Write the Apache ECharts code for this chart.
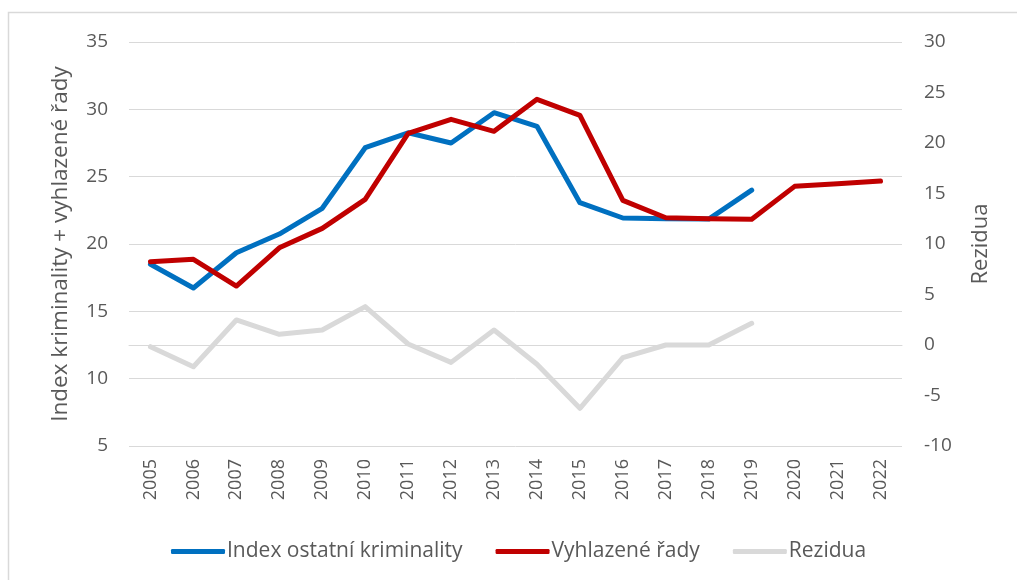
<!DOCTYPE html>
<html>
<head>
<meta charset="utf-8">
<script src="https://cdn.jsdelivr.net/npm/echarts@6/dist/echarts.min.js"></script>
<style>
  html, body { margin: 0; padding: 0; background: #ffffff; }
  #chart { width: 1017px; height: 580px; }
</style>
</head>
<body>
<div id="chart"></div>
<script>
// Years on the category axis
const years = ['2005','2006','2007','2008','2009','2010','2011','2012','2013','2014',
               '2015','2016','2017','2018','2019','2020','2021','2022'];

// Index ostatní kriminality (left axis)
const indexValues = [18.5, 16.73, 19.35, 20.74, 22.65, 27.15, 28.26, 27.5, 29.75, 28.74,
                     23.07, 21.93, 21.88, 21.85, 24.0, null, null, null];

// Vyhlazené řady (left axis)
const smoothedValues = [18.68, 18.86, 16.88, 19.72, 21.16, 23.31, 28.22, 29.26, 28.37, 30.74,
                        29.55, 23.24, 21.95, 21.88, 21.83, 24.28, 24.48, 24.67];

// Rezidua (right axis)
const residualValues = [-0.17, -2.15, 2.48, 1.06, 1.49, 3.8, 0.1, -1.72, 1.49, -1.91,
                        -6.27, -1.25, 0.0, 0.0, 2.15, null, null, null];

const leftTicks = { min: 5, max: 35, interval: 5 };
const rightTicks = { min: -10, max: 30, interval: 5 };

const FONT = 'Open Sans';
const TEXT = '#595959';

const chart = echarts.init(document.getElementById('chart'), null, { renderer: 'canvas' });

chart.setOption({
  animation: false,
  backgroundColor: '#ffffff',
  textStyle: { fontFamily: FONT },
  // chart-area frame: top and left edges
  graphic: [{
    type: 'polyline',
    shape: { points: [[8.5, 580], [8.5, 12.5], [1017, 12.5]] },
    style: { fill: 'none', stroke: '#d9d9d9', lineWidth: 1.5 },
    silent: true
  }],
  grid: { left: 129, right: 115, top: 42, bottom: 134 },
  legend: {
    left: 166,
    top: 536,
    itemGap: 33,
    itemWidth: 54,
    itemHeight: 5,
    icon: 'roundRect',
    textStyle: { fontFamily: FONT, fontSize: 21, color: TEXT, padding: [0, 0, 0, -3] },
    data: ['Index ostatní kriminality', 'Vyhlazené řady', 'Rezidua']
  },
  xAxis: {
    type: 'category',
    data: years,
    boundaryGap: true,
    axisLine: { show: true, lineStyle: { color: '#d9d9d9', width: 1 } },
    axisTick: { show: false },
    axisLabel: { rotate: 90, fontSize: 18, color: TEXT, margin: 13, fontFamily: FONT }
  },
  yAxis: [{
    type: 'value',
    position: 'left',
    min: leftTicks.min, max: leftTicks.max, interval: leftTicks.interval,
    name: 'Index kriminality + vyhlazené řady',
    nameLocation: 'middle',
    nameRotate: 90,
    nameGap: 57,
    nameTextStyle: { fontSize: 22.5, color: TEXT, fontFamily: FONT },
    axisLine: { show: false },
    axisTick: { show: false },
    axisLabel: { fontSize: 19, color: TEXT, margin: 21, fontFamily: FONT },
    splitLine: { show: true, lineStyle: { color: '#d9d9d9', width: 1 } }
  }, {
    type: 'value',
    position: 'right',
    min: rightTicks.min, max: rightTicks.max, interval: rightTicks.interval,
    name: 'Rezidua',
    nameLocation: 'middle',
    nameRotate: 90,
    nameGap: 68,
    nameTextStyle: { fontSize: 22, color: TEXT, fontFamily: FONT },
    axisLine: { show: false },
    axisTick: { show: false },
    axisLabel: { fontSize: 19, color: TEXT, margin: 22, fontFamily: FONT },
    splitLine: { show: false }
  }],
  series: [{
    name: 'Rezidua',
    type: 'line',
    yAxisIndex: 1,
    data: residualValues,
    symbol: 'none',
    lineStyle: { color: '#d9d9d9', width: 5, cap: 'round', join: 'round' },
    itemStyle: { color: '#d9d9d9' }
  }, {
    name: 'Index ostatní kriminality',
    type: 'line',
    yAxisIndex: 0,
    data: indexValues,
    symbol: 'none',
    lineStyle: { color: '#0070c0', width: 5, cap: 'round', join: 'round' },
    itemStyle: { color: '#0070c0' }
  }, {
    name: 'Vyhlazené řady',
    type: 'line',
    yAxisIndex: 0,
    data: smoothedValues,
    symbol: 'none',
    lineStyle: { color: '#c00000', width: 5, cap: 'round', join: 'round' },
    itemStyle: { color: '#c00000' }
  }]
});
</script>
</body>
</html>
